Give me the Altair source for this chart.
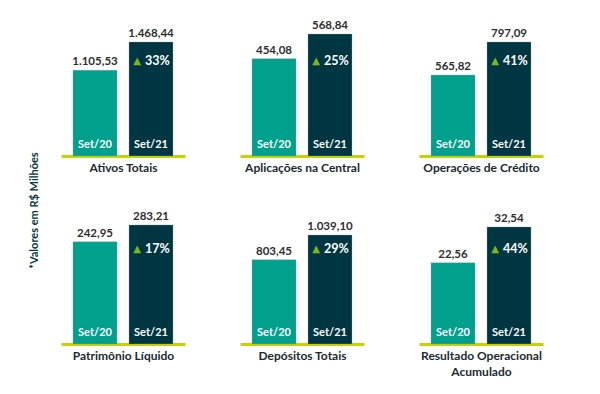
import altair as alt
import pandas as pd

titles = [["Ativos Totais"], ["Aplicações na Central"], ["Operações de Crédito"],
          ["Patrimônio Líquido"], ["Depósitos Totais"], ["Resultado Operacional", "Acumulado"]]
periods = ["Set/20", "Set/21"]
set20 = [1105.53, 454.08, 565.82, 242.95, 803.45, 22.56]
set21 = [1468.44, 568.84, 797.09, 283.21, 1039.10, 32.54]
labels20 = ["1.105,53", "454,08", "565,82", "242,95", "803,45", "22,56"]
labels21 = ["1.468,44", "568,84", "797,09", "283,21", "1.039,10", "32,54"]
growth = ["33%", "25%", "41%", "17%", "29%", "44%"]
y_max = [1803, 653, 979, 333, 1335, 38.9]

TEAL = "#00A08C"
DARK = "#003641"
LIME = "#C9D200"
GREEN = "#7DB61C"
FONT = "Lato"
W, H = 124, 140


def panel(i):
    df = pd.DataFrame({
        "period": periods,
        "value": [set20[i], set21[i]],
        "label": [labels20[i], labels21[i]],
        "growth": ["", growth[i]],
    })
    x = alt.X("period:N", sort=periods,
              scale=alt.Scale(domain=periods, paddingInner=0.2143, paddingOuter=0.2143),
              axis=alt.Axis(title=titles[i], labels=False, ticks=False, grid=False,
                            domainColor=LIME, domainWidth=3, titleFont=FONT,
                            titleFontSize=12, titleFontWeight="bold", titleColor="#1a2a30",
                            titlePadding=6, titleLineHeight=16))
    y = alt.Y("value:Q", scale=alt.Scale(domain=[0, y_max[i]]), axis=None)
    base = alt.Chart(df).encode(x=x)
    bars = base.mark_bar(strokeWidth=1, strokeOpacity=0.35, stroke="#8aa0a6").encode(
        y=y,
        color=alt.Color("period:N", scale=alt.Scale(domain=periods, range=[TEAL, DARK]), legend=None),
    )
    vals = base.mark_text(baseline="bottom", dy=-3, font=FONT, fontSize=11.5,
                          fontWeight="bold", color="#2e2e2e").encode(y=y, text="label:N")
    names = base.mark_text(baseline="middle", font=FONT, fontSize=11, fontWeight="bold",
                           color="white").encode(y=alt.value(H - 11), text="period:N")
    sub = base.transform_filter(alt.datum.period == "Set/21")
    tri = sub.mark_text(text="▲", dx=-14, baseline="middle", fontSize=10, color=GREEN,
                        font="DejaVu Sans").encode(y=alt.value(H - 95))
    pct = sub.mark_text(align="left", dx=-6, baseline="middle", font=FONT, fontSize=12.5,
                        fontWeight="bold", color="white").encode(y=alt.value(H - 95), text="growth:N")
    return alt.layer(bars, vals, names, tri, pct).properties(width=W, height=H)


row1 = alt.hconcat(*[panel(i) for i in range(3)], spacing=55)
row2 = alt.hconcat(*[panel(i) for i in range(3, 6)], spacing=55)

chart = alt.vconcat(row1, row2, spacing=31).properties(
    title=alt.TitleParams("*Valores em R$ Milhões", orient="left", anchor="middle",
                          font=FONT, fontSize=11, fontWeight="bold", color=DARK, offset=21,
                          dx=-14),
    padding={"left": 20, "top": 8, "right": 5, "bottom": 5},
).configure_view(stroke=None)

chart.save("out.html", embed_options={"renderer": "svg", "actions": False})
